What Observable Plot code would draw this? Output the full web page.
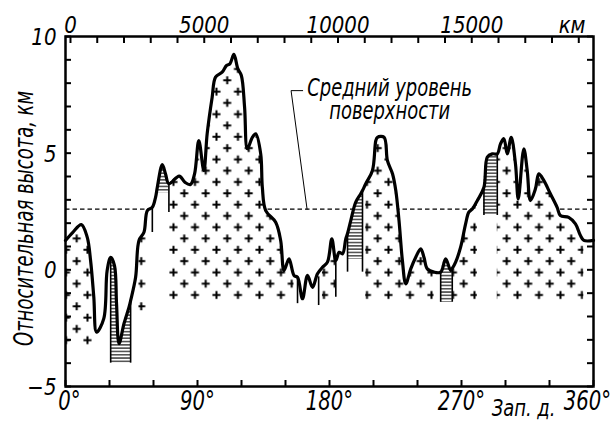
<!DOCTYPE html>
<html><head><meta charset="utf-8">
<script src="https://cdn.jsdelivr.net/npm/d3@7"></script>
<script src="https://cdn.jsdelivr.net/npm/@observablehq/plot@0.6"></script>
<style>
body{margin:0;background:#fff;}
</style></head><body><div id="chart"></div>
<script>
// Profile: west longitude (deg) and relative height (km)
const longitudes = [0,5,10.8,14.8,17.1,19.3,21.2,26.1,28.4,30.8,33.4,34.8,36.5,39.9,43.3,44.4,47.8,50.1,53.5,55.8,59.2,61.4,62.6,66,68.2,70.5,77.5,81.5,85.2,88,90.9,94.3,96.6,100,102.3,106.8,109.8,112.1,114.8,117.5,119.9,122.1,124,127.4,129.7,133.1,134.2,136.5,143.3,146.7,149,152.4,155.8,158.2,161.6,165,168.4,171.8,175.2,178.6,181.6,184.3,186.6,188.9,191.1,192.3,194.5,197.9,201.3,202.5,204.7,209.3,211.6,212.7,217.2,219.5,223,225.2,227.4,229.7,232,235.4,238.8,242.2,244.4,246.7,251.3,255.8,259.2,262.6,263.7,266,269.4,272.8,275,277.4,280.8,285.3,287.6,291,294.4,296.6,298.9,301.2,303.9,306.8,308.7,312.5,314.8,317,320.4,322.7,326.1,330.6,335.2,337.4,343.1,347.7,351.1,353.4,360];
const heights = [1.26,1.61,1.94,1.40,0.40,-1.17,-2.67,-2.09,-0.03,0.53,0.18,-1.46,-3.16,-2.30,-1.60,-1.32,-0.32,1.26,1.61,2.54,2.68,3.11,3.54,4.51,4.11,3.69,4.02,3.75,3.66,4.11,5.54,4.26,5.84,7.40,8.26,8.47,8.76,8.83,9.23,8.62,8.33,6.97,5.19,5.68,5.83,4.97,3.54,2.54,2.04,1.26,-0.03,0.47,-0.24,-0.32,-1.24,-0.24,-0.75,-0.17,0.11,0.33,1.33,0.40,0.75,0.69,1.33,1.56,2.11,2.90,3.26,3.40,3.69,4.26,5.54,5.68,5.68,4.68,4.11,3.40,2.11,0.40,-0.60,0.04,0.54,0.90,0.54,0.04,-0.10,-0.10,0.47,-0.03,0.06,0.33,0.97,1.97,2.47,2.61,2.97,3.54,4.83,4.97,4.97,5.40,5.62,4.97,5.68,4.54,3.04,5.19,4.26,2.97,3.47,4.11,3.83,3.26,2.68,2.33,2.25,1.97,1.47,1.26,1.26];

const meanLevel = 2.6;            // "Средний уровень поверхности", km
// regions under the profile: [lon start, lon end, bottom km]
const plusRegions = [[0,21.2,-3.3],[50.1,55.8,-1.8],[70.5,155.8,-1.3],[175.2,184.3,-1.3],[204.7,251.3,-1.3],[263.7,280.8,-1.3],[294.4,353.4,-1.4]];
const hatchRegions = [[30.8,44.4,-4.0],[61.4,70.5,3.3],[192.3,202.5,0.45],[255.8,263.7,-1.39],[285.3,294.4,2.33]];
// vertical boundary strokes: [lon, top km, bottom km]
const dropLines = [[30.8,0.5,-4.0],[44.4,-1.32,-4.0],[59.2,2.68,1.6],[70.5,3.69,2.46],[158.2,-0.32,-1.45],[172.6,-0.3,-1.53],[184.3,0.4,-1.17],[192.3,1.56,-0.1],[202.5,3.4,-0.1],[255.8,-0.1,-1.39],[263.7,0.06,-1.39],[285.3,3.54,2.33],[294.4,4.97,2.33]];

const degreeLabels = [0,90,180,270,360];
const degreeTicks = [0,30,60,90,120,150,180,210,240,270,300,330,360];
const heightTicks = [-5,-4,-3,-2,-1,0,1,2,3,4,5,6,7,8,9,10];
const heightLabels = [-5,0,5,10];
const kmTicks = [0,1000,2000,3000,4000,5000,6000,7000,8000,9000,10000,11000,12000,13000,14000,15000,16000,17000,18000,19000];
const kmLabels = [0,5000,10000,15000];
const kmZeroLon = 3.4;            // longitude at which the km scale starts
const degPerKm = 0.01824;         // km scale along the parallel
const kmUnitAt = 18750;

const annotationLines = "Средний уровень\nповерхности";
const annotationAt = {lon: 221, h: 6.70};
const leader = [{lon:161.7,h:7.68},{lon:153.8,h:7.68},{lon:164.7,h:2.6}];

const profile = longitudes.map((lon,i)=>({lon, h: heights[i]}));
const inRange = (a,b) => profile.filter(d => d.lon >= a - 1e-9 && d.lon <= b + 1e-9);
const kmToLon = k => kmZeroLon + k*degPerKm;
const maskBase = meanLevel - 0.25;

const font = "'Liberation Sans Narrow','DejaVu Sans Condensed',sans-serif";
// glyph stretch (width, height) for each text mark, in the order they appear below
const textStretch = [[0.95,1.15],[0.95,1.15],[0.95,1.15],[0.95,1.1],[1,1.05],[1,1.05],[1,1.05],[0.87,1.15],[0.83,1.05]];

const marks = [
  Plot.ruleY([meanLevel], {strokeDasharray:"4.5,3", strokeWidth:1.4}),
  Plot.line(leader, {x:"lon", y:"h", strokeWidth:1}),
  Plot.areaY(profile, {x:"lon", y1: maskBase, y2: d => Math.max(d.h, maskBase), fill:"white", curve:"catmull-rom"}),
  ...plusRegions.map(([a,b,base]) => Plot.areaY(inRange(a,b), {x:"lon", y1: base, y2:"h", fill:"url(#plusPat)", curve:"catmull-rom"})),
  ...hatchRegions.map(([a,b,base]) => Plot.areaY(inRange(a,b), {x:"lon", y1: base, y2:"h", fill:"url(#hatchPat)", curve:"catmull-rom"})),
  Plot.ruleX(dropLines, {x: d=>d[0], y1: d=>d[1], y2: d=>d[2], strokeWidth:1.6}),
  Plot.line(profile, {x:"lon", y:"h", strokeWidth:3.2, curve:"catmull-rom", strokeLinejoin:"round"}),
  Plot.tickX(degreeTicks, {x: d=>d, insetTop: 344, strokeWidth: 2}),
  Plot.tickX(kmTicks, {x: kmToLon, insetBottom: 343, strokeWidth: 2}),
  Plot.tickY(heightTicks, {y: d=>d, insetRight: 522, strokeWidth: 2}),
  Plot.tickY(heightTicks, {y: d=>d, insetLeft: 522, strokeWidth: 2}),
  Plot.frame({stroke:"black", strokeWidth:2.5}),
  // bottom labels
  Plot.text(degreeLabels.filter(d => d>0 && d<360), {x:d=>d, y:-5, dy:5, lineAnchor:"top", text:d=>d+"°", fontSize:23}),
  Plot.text([0], {x:d=>d, y:-5, dy:5, dx:4, lineAnchor:"top", text:d=>d+"°", fontSize:23}),
  Plot.text([360], {x:d=>d, y:-5, dy:5, dx:-6, lineAnchor:"top", text:d=>d+"°", fontSize:23}),
  Plot.text(["Зап. д."], {x:312.3, y:-5, dy:13, lineAnchor:"top", fontSize:21}),
  // top labels
  Plot.text(kmLabels, {x:kmToLon, y:10, dy:-4, lineAnchor:"bottom", text:d=>String(d), fontSize:22}),
  Plot.text(["км"], {x:kmToLon(kmUnitAt), y:10, dy:-4, lineAnchor:"bottom", fontSize:22}),
  // left labels
  Plot.text(heightLabels, {x:0, y:d=>d, dx:-9, dy:1, textAnchor:"end", lineAnchor:"middle", text:d=> d<0 ? "−"+(-d) : String(d), fontSize:22}),
  Plot.text(["Относительная высота, км"], {x:0, y:2.2, dx:-41, rotate:-90, lineAnchor:"middle", fontSize:23}),
  // annotation
  Plot.text([annotationLines], {x:annotationAt.lon, y:annotationAt.h, dy:5, lineAnchor:"bottom", lineHeight:0.9, fontSize:24})
];

const chart = Plot.plot({
  width: 611, height: 421,
  marginLeft: 65, marginRight: 18, marginTop: 36, marginBottom: 35,
  x: {domain:[0,360], axis:null},
  y: {domain:[-5,10], axis:null},
  style: {fontFamily: font, fontStyle:"italic", background:"white", color:"black"},
  marks
});

// pattern definitions for the fills
const NS = "http://www.w3.org/2000/svg";
function el(name, attrs, parent){ const e = document.createElementNS(NS, name); for (const k in attrs) e.setAttribute(k, attrs[k]); if (parent) parent.appendChild(e); return e; }
const defs = el("defs", {});
const pp = el("pattern", {id:"plusPat", patternUnits:"userSpaceOnUse", width:21.5, height:22.6, patternTransform:"translate(17.6,18.15)"}, defs);
el("path", {d:"M1.375,5.65H9.375M5.375,1.65V9.65M12.125,16.95H20.125M16.125,12.95V20.95", stroke:"black", "stroke-width":2, fill:"none"}, pp);
const hp = el("pattern", {id:"hatchPat", patternUnits:"userSpaceOnUse", width:8, height:3.3}, defs);
el("line", {x1:0, y1:1.65, x2:8, y2:1.65, stroke:"black", "stroke-width":1.1}, hp);
chart.insertBefore(defs, chart.firstChild);

// stretch lettering (tall, narrow drafting letters)
const textGroups = chart.querySelectorAll('g[aria-label="text"]');
textGroups.forEach((g, i) => {
  const [sx, sy] = textStretch[i] || [1,1];
  g.querySelectorAll("text").forEach(t => {
    let tr = t.getAttribute("transform");
    if (!tr) {
      const x = +(t.getAttribute("x") || 0), y = +(t.getAttribute("y") || 0);
      t.removeAttribute("x"); t.removeAttribute("y");
      tr = `translate(${x},${y})`;
    }
    t.setAttribute("transform", `${tr} scale(${sx},${sy})`);
  });
});

document.getElementById("chart").appendChild(chart);
</script>
</body></html>
